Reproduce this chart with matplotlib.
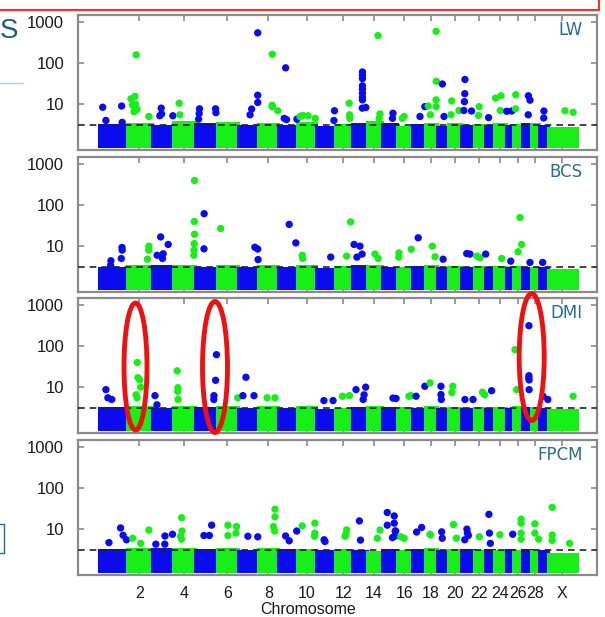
import matplotlib
matplotlib.use('Agg')
import matplotlib.pyplot as plt
from matplotlib.patches import Ellipse, Rectangle
from matplotlib.lines import Line2D
import numpy as np

plt.rcParams['font.family'] = ['Liberation Sans', 'DejaVu Sans']

# chromosome names and lengths (Mb)
chroms = [str(i) for i in range(1, 30)] + ['X']
chrom_len = [158.3, 137.0, 121.4, 120.6, 121.2, 119.5, 112.6, 113.4, 105.7, 104.3,
             107.3, 91.2, 84.2, 84.6, 85.3, 81.7, 75.2, 66.0, 64.1, 72.0,
             71.6, 61.4, 52.5, 62.7, 42.9, 51.7, 45.4, 46.3, 51.5, 160.0]
tick_chroms = ['2', '4', '6', '8', '10', '12', '14', '16', '18', '20', '22', '24', '26', '28', 'X']

traits = ['LW', 'BCS', 'DMI', 'FPCM']
threshold = 3.15

# upper edge of the dense cloud of non-significant SNPs, per chromosome
bulk_top = {
    'LW':   [3.1, 3.3, 3.0, 3.6, 3.2, 3.5, 3.0, 3.3, 3.0, 3.4, 2.7, 3.1, 3.2, 3.6, 3.2,
             2.8, 3.1, 3.3, 2.8, 3.3, 3.0, 3.1, 2.9, 3.2, 3.0, 3.1, 3.2, 3.2, 3.0, 2.6],
    'BCS':  [3.0, 3.2, 3.3, 3.3, 3.0, 3.3, 2.9, 3.2, 3.0, 3.2, 2.8, 3.1, 3.2, 3.3, 3.0,
             3.0, 3.1, 3.2, 2.9, 3.1, 3.0, 3.1, 2.9, 3.1, 3.0, 3.1, 3.0, 3.0, 3.0, 2.6],
    'DMI':  [3.1, 3.2, 3.0, 3.3, 3.1, 3.3, 3.0, 3.2, 3.0, 3.2, 2.8, 3.0, 3.1, 3.2, 3.1,
             3.1, 3.0, 3.3, 3.0, 3.1, 3.0, 3.1, 3.0, 3.1, 3.0, 3.2, 3.1, 3.1, 3.0, 2.7],
    'FPCM': [3.1, 3.3, 3.2, 3.2, 3.1, 3.2, 3.0, 3.2, 3.1, 3.1, 3.0, 3.1, 3.0, 2.8, 3.1,
             2.9, 3.1, 3.2, 3.0, 3.1, 3.1, 3.0, 3.1, 3.0, 3.1, 3.0, 3.1, 3.0, 3.0, 2.5],
}

# points standing out above the dense cloud: (chromosome, position Mb, value)
hits = {
    'LW': [('1', 21, 8.4), ('1', 39, 4.0), ('1', 127, 9.0), ('1', 130, 3.6),
           ('2', 50, 160), ('2', 21, 13.5), ('2', 43, 15.5), ('2', 30, 9.5), ('2', 46, 10),
           ('2', 55, 7.5), ('2', 38, 6.5), ('2', 121, 5.0),
           ('3', 53, 8.0), ('3', 55, 5.8), ('3', 45, 5.2), ('3', 118, 5.2),
           ('4', 32, 10.5), ('4', 36, 5.5),
           ('5', 25, 7.7), ('5', 23, 5.9), ('5', 20, 4.3), ('5', 115, 7.7), ('5', 117, 6.2),
           ('7', 110, 550), ('7', 110, 16.5), ('7', 110, 11), ('7', 76, 7.6), ('7', 67, 5.5),
           ('8', 79, 165), ('8', 78, 9.4), ('8', 79, 8.6), ('8', 110, 6.9),
           ('9', 40, 77), ('9', 32, 4.5), ('9', 45, 4.2), ('9', 103, 4.3),
           ('10', 30, 5.3), ('10', 60, 5.2), ('10', 15, 5.0), ('10', 100, 4.5),
           ('11', 103, 6.9), ('11', 100, 4.0),
           ('12', 78, 10.5), ('12', 80, 5.5), ('12', 82, 4.5),
           ('13', 61, 61), ('13', 61, 50), ('13', 61, 42), ('13', 61, 28), ('13', 61, 23),
           ('13', 61, 18.5), ('13', 61, 14.8), ('13', 61, 12.7), ('13', 60, 8.0), ('13', 80, 8.3),
           ('14', 64, 470), ('14', 75, 5.8), ('14', 70, 4.5),
           ('15', 63, 6.0), ('15', 60, 4.5), ('16', 40, 5.0), ('16', 30, 4.5),
           ('17', 74, 8.7), ('17', 47, 5.0),
           ('18', 62, 600), ('18', 63, 36), ('18', 62, 12.7), ('18', 62, 8.7), ('18', 18, 9.0),
           ('18', 30, 5.5), ('19', 31, 31), ('19', 40, 5.0),
           ('20', 19, 12), ('20', 15, 5.5), ('20', 60, 7.0),
           ('21', 21, 40), ('21', 20, 18), ('21', 18, 11.5), ('21', 15, 7.0), ('21', 58, 6.8),
           ('22', 29, 8.7), ('22', 25, 5.3), ('23', 20, 4.7),
           ('24', 7, 14), ('24', 37, 16), ('24', 33, 7.0),
           ('25', 6, 6.7), ('25', 34, 6.8), ('26', 14, 17), ('26', 13, 7.7),
           ('27', 33, 16), ('27', 42, 12.5), ('27', 32, 5.5),
           ('29', 28, 6.8), ('29', 27, 4.6), ('X', 94, 6.9), ('X', 140, 6.3)],
    'BCS': [('1', 67, 4.4), ('1', 65, 3.4), ('1', 129, 9.3), ('1', 130, 8.0), ('1', 125, 5.0),
            ('2', 121, 10), ('2', 120, 8.0), ('2', 113, 4.8),
            ('3', 50, 16.8), ('3', 92, 11), ('3', 30, 6.0), ('3', 64, 6.5), ('3', 60, 5.0),
            ('4', 118, 400), ('4', 117, 40), ('4', 118, 19.5), ('4', 116, 11.5), ('4', 115, 8.0),
            ('4', 114, 6.0), ('5', 51, 62), ('5', 50, 8.6), ('6', 22, 27),
            ('7', 94, 9.4), ('7', 110, 8.5), ('7', 112, 4.7),
            ('9', 60, 34), ('9', 97, 12), ('10', 27, 6.0), ('10', 30, 5.0), ('11', 82, 5.4),
            ('12', 64, 5.7), ('12', 86, 39),
            ('13', 14, 11), ('13', 47, 10), ('13', 59, 6.4), ('13', 30, 5.4),
            ('14', 47, 6.4), ('14', 65, 5.0),
            ('16', 11, 6.8), ('16', 10, 5.4), ('16', 80, 8.4), ('17', 37, 16),
            ('18', 41, 10), ('18', 56, 5.5), ('19', 35, 4.8),
            ('21', 31, 6.6), ('21', 49, 6.4), ('22', 17, 5.7), ('22', 34, 5.2), ('23', 4, 6.4),
            ('24', 41, 5.0), ('25', 29, 4.3), ('26', 38, 50), ('26', 47, 11), ('26', 27, 7.3),
            ('27', 42, 4.0), ('29', 21, 4.0)],
    'DMI': [('1', 39, 8.7), ('1', 50, 5.5), ('1', 72, 5.0),
            ('2', 56, 40), ('2', 60, 17), ('2', 70, 15), ('2', 75, 10), ('2', 50, 6.5), ('2', 55, 5.5),
            ('3', 18, 6.2), ('3', 29, 3.7),
            ('4', 21, 25), ('4', 25, 9.7), ('4', 24, 7.9), ('4', 26, 5.0),
            ('5', 120, 62), ('5', 115, 14.7), ('5', 106, 6.2), ('5', 105, 5.0),
            ('6', 118, 5.5), ('7', 44, 17.4), ('7', 27, 6.2), ('7', 89, 6.2),
            ('8', 50, 5.5), ('8', 94, 5.5), ('11', 44, 4.7), ('11', 95, 4.7),
            ('12', 41, 6.0), ('12', 80, 6.2),
            ('13', 25, 8.7), ('13', 79, 10), ('13', 70, 6.5), ('13', 65, 5.0),
            ('15', 63, 5.4), ('15', 80, 5.3), ('16', 67, 6.0), ('16', 78, 6.2),
            ('17', 25, 6.0), ('17', 74, 10.5), ('18', 28, 12.7),
            ('19', 23, 10.5), ('19', 23, 6.6), ('19', 25, 5.0),
            ('20', 25, 10.5), ('20', 20, 7.4), ('21', 21, 5.0), ('21', 66, 5.0),
            ('22', 48, 7.5), ('22', 60, 6.5), ('23', 37, 8.2),
            ('26', 10, 82), ('26', 19, 8.7),
            ('27', 36, 316), ('27', 36, 19), ('27', 35, 17), ('27', 37, 15), ('27', 37, 8.7),
            ('29', 23, 6.0), ('29', 50, 5.0), ('X', 140, 6.0)],
    'FPCM': [('1', 56, 4.7), ('1', 121, 10.7), ('1', 135, 7.1), ('1', 154, 5.5),
             ('2', 30, 6.0), ('2', 121, 9.5), ('2', 75, 4.5),
             ('3', 23, 4.3), ('3', 73, 4.3), ('3', 74, 6.8), ('3', 116, 7.5),
             ('4', 46, 19), ('4', 48, 9.0), ('4', 40, 6.7), ('4', 45, 5.7),
             ('5', 93, 12.5), ('5', 50, 7.0), ('5', 80, 7.0),
             ('6', 63, 12.5), ('6', 111, 11.6), ('6', 108, 8.0), ('6', 63, 7.0),
             ('7', 55, 6.7), ('7', 110, 6.5),
             ('8', 94, 30.8), ('8', 94, 20), ('8', 85, 11.6), ('8', 92, 9.0),
             ('9', 102, 9.0), ('9', 40, 6.8), ('9', 60, 5.2),
             ('10', 27, 12), ('10', 98, 14), ('10', 98, 8.0), ('10', 96, 6.7),
             ('11', 45, 5.5), ('11', 50, 5.0),
             ('12', 64, 9.6), ('12', 60, 7.5), ('12', 55, 6.7),
             ('13', 44, 15.9), ('13', 50, 5.4), ('14', 75, 9.5), ('14', 60, 6.0),
             ('15', 31, 25.5), ('15', 70, 21), ('15', 31, 12.5), ('15', 70, 14), ('15', 75, 9.0),
             ('15', 78, 9.0), ('15', 72, 6.7), ('15', 60, 6.2),
             ('16', 21, 6.5), ('16', 40, 6.0), ('17', 28, 8.5), ('17', 56, 11),
             ('18', 28, 7.5), ('18', 30, 7.2), ('19', 27, 8.6), ('19', 30, 6.0),
             ('20', 29, 13), ('20', 45, 6.0),
             ('21', 32, 10), ('21', 35, 8.0), ('21', 40, 7.0), ('21', 20, 5.5), ('22', 30, 6.5),
             ('23', 22, 23), ('23', 25, 8.0), ('23', 30, 4.5), ('24', 31, 7.3), ('25', 40, 7.5),
             ('26', 44, 17.5), ('26', 44, 14), ('26', 44, 8.0), ('26', 44, 5.7),
             ('28', 24, 13.5), ('28', 24, 8.0), ('28', 45, 5.7),
             ('X', 23, 34), ('X', 23, 7.2), ('X', 23, 5.3), ('X', 120, 4.5)],
}

blue = '#0b0bf0'
green = '#17ef17'
label_col = '#2b6b8c'
frame_col = '#8a8a8a'

starts = np.concatenate([[0], np.cumsum(chrom_len)[:-1]])
chrom_start = dict(zip(chroms, starts))
chrom_col = {c: (blue if i % 2 == 0 else green) for i, c in enumerate(chroms)}
tick_pos = [chrom_start[c] + chrom_len[chroms.index(c)] / 2 for c in tick_chroms]

fig = plt.figure(figsize=(6.05, 6.17), dpi=100)
W, H = 605, 617
bottoms_px = [150, 292, 433, 575]
ax_h = 135

axes = []
for k, trait in enumerate(traits):
    ax = fig.add_axes([78 / W, 1 - bottoms_px[k] / H, 519 / W, ax_h / H])
    axes.append(ax)
    ax.set_yscale('log')
    ax.set_ylim(0.76, 1500)
    ax.set_xlim(-117, 2785)

    # dense cloud of SNPs per chromosome
    ax.bar(starts, np.array(bulk_top[trait]) - 0.97, width=chrom_len, bottom=0.97,
           align='edge', color=[chrom_col[c] for c in chroms],
           edgecolor=[chrom_col[c] for c in chroms], linewidth=2.2, zorder=2)

    xs = [chrom_start[c] + p for c, p, v in hits[trait]]
    ys = [v for c, p, v in hits[trait]]
    cs = [chrom_col[c] for c, p, v in hits[trait]]
    ax.scatter(xs, ys, s=28, c=cs, linewidths=0, zorder=3)

    ax.axhline(threshold, color='#222222', linestyle=(0, (4, 3)), linewidth=1.2, zorder=4)

    ax.text(0.973, 0.89, trait, transform=ax.transAxes, ha='right', va='center',
            fontsize=12, color=label_col, family='DejaVu Sans')

    ax.set_yticks([10, 100, 1000])
    ax.set_yticklabels(['10', '100', '1000'])
    ax.yaxis.set_minor_locator(matplotlib.ticker.NullLocator())
    ax.set_xticks(tick_pos)
    if k == 3:
        ax.set_xticklabels(tick_chroms)
    else:
        ax.set_xticklabels([])
    ax.tick_params(axis='both', direction='in', colors=frame_col, labelcolor='#1a1a1a',
                   labelsize=12, length=4, width=1.2, top=True, right=True)
    ax.tick_params(axis='y', pad=10)
    ax.tick_params(axis='x', pad=8, labelsize=11.5)
    for sp in ax.spines.values():
        sp.set_color(frame_col)
        sp.set_linewidth(1.6)

fig.text(308 / W, 1 - 610 / H, 'Chromosome', ha='center', va='center', fontsize=11.5,
         color='#1a1a1a')

# highlighted DMI regions
for cx, cy, ew, eh in [(135.5, 366.5, 23, 127), (215, 367, 25, 131), (531.7, 357, 25, 127)]:
    fig.patches.append(Ellipse((cx / W, 1 - cy / H), ew / W, eh / H, transform=fig.transFigure,
                               fill=False, edgecolor='#ee1111', linewidth=3.5, zorder=10))

# slide elements around the chart
fig.add_artist(Line2D([0, 599 / W, 599 / W], [1 - 9.5 / H, 1 - 9.5 / H, 1.0],
                      transform=fig.transFigure, color='#e8392a', linewidth=1.6))
fig.text(0.0, 1 - 31 / H, 'S', ha='left', va='center', fontsize=20, color='#1f5d7d')
fig.add_artist(Line2D([0, 23 / W], [1 - 83 / H, 1 - 83 / H], transform=fig.transFigure,
                      color='#b5d0e0', linewidth=1))
fig.patches.append(Rectangle((-2 / W, 1 - 553 / H), 6 / W, 29 / H, transform=fig.transFigure,
                             fill=False, edgecolor='#2a6a8f', linewidth=1))

fig.savefig('out.png', dpi=100)
